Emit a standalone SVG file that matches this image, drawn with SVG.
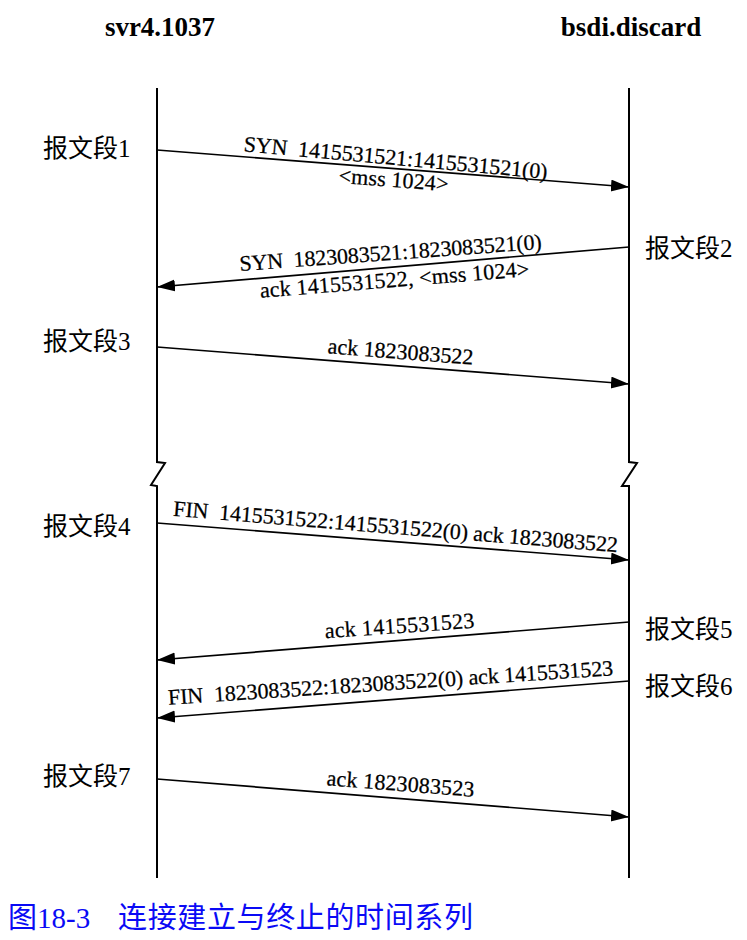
<svg xmlns="http://www.w3.org/2000/svg" width="747" height="940" viewBox="0 0 747 940">
<style>
.hdr{font-family:"Liberation Serif",serif;font-weight:bold;font-size:27px;fill:#000}
.lbl{font-family:"Liberation Serif",serif;font-size:22px;fill:#000;stroke:#000;stroke-width:0.25}
.seg{font-family:"Noto Sans CJK SC","Noto Sans",sans-serif;font-size:25px;fill:#000}
.num{font-family:"Liberation Serif",serif}
.life{stroke:#000;stroke-width:2;fill:none}
.msg{stroke:#000;stroke-width:1.7;fill:none;marker-end:url(#ah)}
.cap{font-family:"Noto Sans CJK SC",sans-serif;font-size:29px;fill:#0a0af5}
</style>
<defs>
<marker id="ah" markerUnits="userSpaceOnUse" markerWidth="20" markerHeight="14" refX="18" refY="6" orient="auto">
<path d="M0,0 L18,6 L0,12 z" fill="#000"/>
</marker>
</defs>
<rect width="747" height="940" fill="#fff"/>
<g id="host-left">
<text class="hdr" x="160" y="36" text-anchor="middle">svr4.1037</text>
<path class="life" d="M157,88 V462 L165,463 L151,485 L157,486 V878"/>
</g>
<g id="host-right">
<text class="hdr" x="631" y="36" text-anchor="middle">bsdi.discard</text>
<path class="life" d="M629,88 V462 L637,463 L622,486 L629,486 V878"/>
</g>
<g id="seg1"><text class="seg" x="43" y="157">报文段<tspan class="num">1</tspan></text></g>
<g id="seg2"><text class="seg" x="645" y="257">报文段<tspan class="num">2</tspan></text></g>
<g id="seg3"><text class="seg" x="43" y="350">报文段<tspan class="num">3</tspan></text></g>
<g id="seg4"><text class="seg" x="43" y="535">报文段<tspan class="num">4</tspan></text></g>
<g id="seg5"><text class="seg" x="645" y="638">报文段<tspan class="num">5</tspan></text></g>
<g id="seg6"><text class="seg" x="645" y="695">报文段<tspan class="num">6</tspan></text></g>
<g id="seg7"><text class="seg" x="43" y="785">报文段<tspan class="num">7</tspan></text></g>
<g id="connectors">
<line class="msg" x1="157" y1="150" x2="629" y2="187"/>
<line class="msg" x1="629" y1="247" x2="157" y2="287"/>
<line class="msg" x1="157" y1="347" x2="629" y2="384"/>
<line class="msg" x1="157" y1="523" x2="629" y2="560"/>
<line class="msg" x1="629" y1="622" x2="157" y2="660"/>
<line class="msg" x1="629" y1="681" x2="157" y2="718"/>
<line class="msg" x1="157" y1="779" x2="629" y2="817"/>
</g>
<g id="labels">
<text class="lbl" text-anchor="middle" transform="translate(395,165) rotate(5.2)" textLength="305">SYN&#160; 1415531521:1415531521(0)</text>
<text class="lbl" text-anchor="middle" transform="translate(393,187) rotate(4.5)" textLength="110">&lt;mss 1024&gt;</text>
<text class="lbl" text-anchor="middle" transform="translate(391,260) rotate(-4.2)" textLength="303">SYN&#160; 1823083521:1823083521(0)</text>
<text class="lbl" text-anchor="middle" transform="translate(395,287) rotate(-4.6)" textLength="270">ack 1415531522, &lt;mss 1024&gt;</text>
<text class="lbl" text-anchor="middle" transform="translate(400,359) rotate(4.5)" textLength="146">ack 1823083522</text>
<text class="lbl" text-anchor="middle" transform="translate(395,534) rotate(4.7)" textLength="446">FIN&#160; 1415531522:1415531522(0) ack 1823083522</text>
<text class="lbl" text-anchor="middle" transform="translate(400,633) rotate(-4)" textLength="150">ack 1415531523</text>
<text class="lbl" text-anchor="middle" transform="translate(391,690) rotate(-3.8)" textLength="446">FIN&#160; 1823083522:1823083522(0) ack 1415531523</text>
<text class="lbl" text-anchor="middle" transform="translate(400,791) rotate(4.5)" textLength="148">ack 1823083523</text>
</g>
<g id="caption">
<text class="cap" x="8" y="928">图<tspan class="num">18-3</tspan></text>
<text class="cap" x="118" y="928" textLength="355" lengthAdjust="spacing">连接建立与终止的时间系列</text>
</g>
</svg>
